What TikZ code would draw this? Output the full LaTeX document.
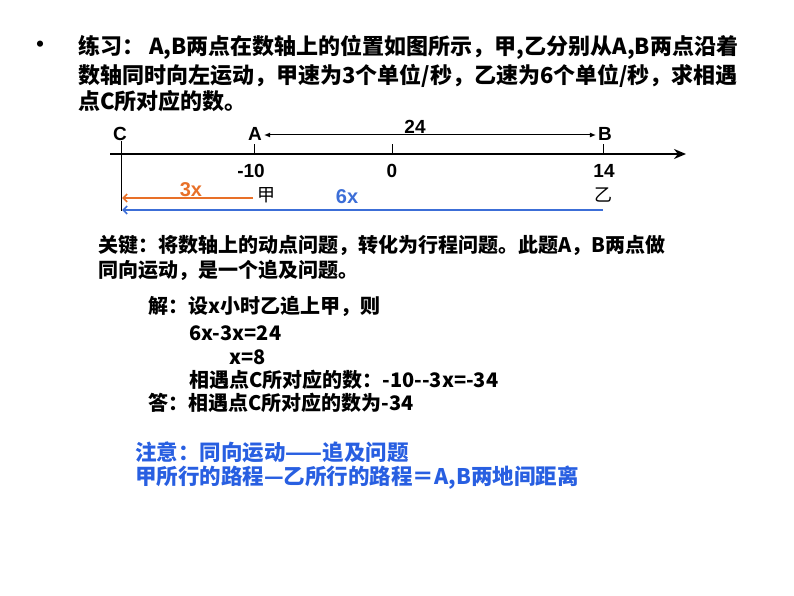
\documentclass[tikz,border=0pt]{standalone}
\usepackage{fontspec}
\setmainfont{Liberation Sans}
\newfontfamily\cjk{Noto Sans CJK SC}
\usetikzlibrary{arrows.meta}
\definecolor{walkorange}{RGB}{232,112,40}
\definecolor{walkblue}{RGB}{60,110,215}
\definecolor{noteblue}{RGB}{40,95,225}

\begin{document}
\begin{tikzpicture}[x=1pt,y=-1pt,
  title/.style={anchor=west,inner sep=0pt,font=\cjk\bfseries\fontsize{22}{22}\selectfont},
  body/.style={anchor=west,inner sep=0pt,font=\cjk\bfseries\fontsize{20}{20}\selectfont},
  note/.style={body,noteblue,font=\cjk\bfseries\fontsize{21.5}{21.5}\selectfont},
  lbl/.style={inner sep=0pt,font=\bfseries\fontsize{19}{19}\selectfont},
  walker/.style={inner sep=0pt,font=\cjk\fontsize{18}{18}\selectfont},
  axisline/.style={line width=2.2pt,-{Stealth[length=12pt,width=10pt]}},
  tickline/.style={line width=1pt},
  walkline/.style={line width=1.6pt,-{Straight Barb[length=4pt,width=8pt]}}]
\useasboundingbox (0,0) rectangle (794,596);

\node[title,anchor=center] (bullet) at (40,47) {•};
\node[title] (q1) at (78,47) {练习： A,B两点在数轴上的位置如图所示，甲,乙分别从A,B两点沿着};
\node[title] (q2) at (78,76) {数轴同时向左运动，甲速为3个单位/秒，乙速为6个单位/秒，求相遇};
\node[title] (q3) at (78,101) {点C所对应的数。};

\coordinate (axisstart) at (110,154);
\coordinate (axisend) at (686,154);
\coordinate (pC) at (121,154);
\coordinate (pA) at (254,154);
\coordinate (pO) at (392,154);
\coordinate (pB) at (603,154);
\draw[axisline] (axisstart) -- (axisend);
\foreach \p in {pA,pO,pB}
  \draw[tickline] (\p) -- ++(0,-10);
\draw[tickline] (121,141) -- (121,211);

\node[lbl] (C) at (120,134) {C};
\node[lbl] (A) at (255,134) {A};
\node[lbl] (B) at (605,134) {B};
\node[lbl] (dist) at (415,127) {24};
\draw[line width=1pt,{Latex[length=6pt,width=5pt]}-{Latex[length=6pt,width=5pt]}] (A.east) ++(2,1) -- ([shift={(-2pt,-1pt)}]B.west);

\node[lbl] (m10) at (251,171) {-10};
\node[lbl] (zero) at (392,171) {0};
\node[lbl] (fourteen) at (604,171) {14};

\node[walker] (jia) at (266,195) {甲};
\node[walker] (yi) at (603,195) {乙};
\node[lbl,walkorange,font=\bfseries\fontsize{20}{20}\selectfont] (three) at (191,190) {3x};
\node[lbl,walkblue,font=\bfseries\fontsize{20}{20}\selectfont] (six) at (347,197) {6x};
\coordinate (jiastart) at (253,198);
\coordinate (jiaend) at (122,198);
\coordinate (yistart) at (603,210);
\coordinate (yiend) at (122,210);
\draw[walkline,walkorange] (jiastart) -- (jiaend);
\draw[walkline,walkblue] (yistart) -- (yiend);

\node[body] (key1) at (98,245) {关键：将数轴上的动点问题，转化为行程问题。此题A，B两点做};
\node[body] (key2) at (98,270) {同向运动，是一个追及问题。};

\node[body] (sol1) at (148,306) {解：设x小时乙追上甲，则};
\node[body] (sol2) at (189,333) {6x-3x=24};
\node[body] (sol3) at (229,357) {x=8};
\node[body] (sol4) at (189,380) {相遇点C所对应的数：-10-{}-3x=-34};
\node[body] (sol5) at (148,403) {答：相遇点C所对应的数为-34};

\node[note] (note1) at (135,452) {注意：同向运动——追及问题};
\node[note] (note2) at (135,478) {甲所行的路程—乙所行的路程＝A,B两地间距离};
\end{tikzpicture}
\end{document}
